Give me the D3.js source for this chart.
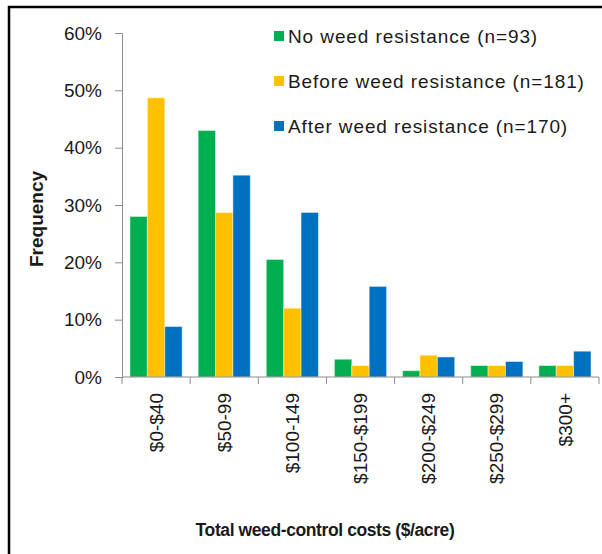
<!DOCTYPE html>
<html>
<head>
<meta charset="utf-8">
<script src="https://cdn.jsdelivr.net/npm/d3@7"></script>
<style>
  body { margin: 0; background: #fff; }
  svg text { font-family: "Liberation Sans", Arial, sans-serif; fill: #1a1a1a; }
</style>
</head>
<body>
<div id="chart"></div>
<script>
// Chart data
var categories = ["$0-$40", "$50-99", "$100-149", "$150-$199", "$200-$249", "$250-$299", "$300+"];
var seriesNames = ["No weed resistance (n=93)", "Before weed resistance (n=181)", "After weed resistance (n=170)"];
var seriesColors = ["#00b050", "#ffc000", "#0070c0"];
var noResistance = [28.0, 43.0, 20.5, 3.1, 1.1, 2.0, 2.0];
var beforeResistance = [48.7, 28.7, 12.0, 2.0, 3.8, 2.0, 2.0];
var afterResistance = [8.8, 35.2, 28.7, 15.8, 3.5, 2.7, 4.5];
var yTicks = [0, 10, 20, 30, 40, 50, 60];

var seriesValues = [noResistance, beforeResistance, afterResistance];

// Size settings
var width = 602, height = 554;
var plotLeft = 122, plotRight = 599, plotTop = 33, plotBottom = 377;

var svg = d3.select("#chart").append("svg")
    .attr("width", width)
    .attr("height", height);

// outer frame (runs off the right and bottom edge)
svg.append("rect")
    .attr("x", 9).attr("y", 7)
    .attr("width", 620).attr("height", 580)
    .attr("fill", "none")
    .attr("stroke", "#000")
    .attr("stroke-width", 2.5);

// Scales
var xScale = d3.scaleBand()
    .domain(categories)
    .range([plotLeft, plotRight]);

var xInner = d3.scaleBand()
    .domain(d3.range(seriesNames.length))
    .range([8, xScale.bandwidth() - 8]);

var yScale = d3.scaleLinear()
    .domain([0, 60])
    .range([plotBottom, plotTop]);

// Bars
var groups = svg.selectAll(".group")
    .data(categories)
  .enter().append("g")
    .attr("class", "group")
    .attr("transform", function(d) { return "translate(" + xScale(d) + ",0)"; });

groups.selectAll("rect")
    .data(function(d, i) {
        return seriesValues.map(function(s, j) { return { series: j, value: s[i] }; });
    })
  .enter().append("rect")
    .attr("x", function(d) { return xInner(d.series); })
    .attr("width", xInner.bandwidth())
    .attr("y", function(d) { return yScale(d.value); })
    .attr("height", function(d) { return plotBottom - yScale(d.value); })
    .attr("fill", function(d) { return seriesColors[d.series]; })
    .attr("stroke", "rgba(255,255,255,0.45)")
    .attr("stroke-width", 1);

// Y axis
var yAxis = d3.axisLeft(yScale)
    .tickValues(yTicks)
    .tickSize(7)
    .tickPadding(13)
    .tickFormat(function(d) { return d + "%"; });

var gy = svg.append("g")
    .attr("transform", "translate(" + plotLeft + ",0)")
    .call(yAxis);
gy.selectAll("line, path").attr("stroke", "#8c8c8c");
gy.selectAll("text").style("font-size", "19px").attr("fill", "#1a1a1a");

// X axis: line with ticks on the category boundaries
var gx = svg.append("g").attr("class", "x axis");
gx.append("line")
    .attr("x1", plotLeft).attr("x2", plotRight)
    .attr("y1", plotBottom).attr("y2", plotBottom)
    .attr("stroke", "#8c8c8c");
var bounds = categories.map(function(d) { return xScale(d); }).concat([plotRight]);
gx.selectAll(".tick")
    .data(bounds)
  .enter().append("line")
    .attr("x1", function(d) { return d; }).attr("x2", function(d) { return d; })
    .attr("y1", plotBottom).attr("y2", plotBottom + 7)
    .attr("stroke", "#8c8c8c");

gx.selectAll(".label")
    .data(categories)
  .enter().append("text")
    .attr("transform", function(d) {
        return "translate(" + (xScale(d) + xScale.bandwidth() / 2) + "," + (plotBottom + 16) + ") rotate(-90)";
    })
    .attr("text-anchor", "end")
    .attr("dy", "0.35em")
    .style("font-size", "19px")
    .text(function(d) { return d; });

// Axis titles
svg.append("text")
    .attr("transform", "translate(36," + 219 + ") rotate(-90)")
    .attr("text-anchor", "middle")
    .attr("dy", "0.35em")
    .style("font-size", "19px")
    .style("font-weight", "bold")
    .text("Frequency");

svg.append("text")
    .attr("x", 325).attr("y", 530)
    .attr("text-anchor", "middle")
    .attr("dy", "0.35em")
    .style("font-size", "17.5px")
    .style("font-weight", "bold")
    .style("letter-spacing", "-0.4px")
    .text("Total weed-control costs ($/acre)");

// Legend
var legend = svg.selectAll(".legend")
    .data(seriesNames)
  .enter().append("g")
    .attr("class", "legend")
    .attr("transform", function(d, i) { return "translate(274," + (36 + i * 45) + ")"; });

legend.append("rect")
    .attr("x", 0).attr("y", -5)
    .attr("width", 10).attr("height", 10)
    .attr("fill", function(d, i) { return seriesColors[i]; });

legend.append("text")
    .attr("x", 14)
    .attr("dy", "0.35em")
    .style("font-size", "19px")
    .style("letter-spacing", "0.9px")
    .text(function(d) { return d; });
</script>
</body>
</html>
